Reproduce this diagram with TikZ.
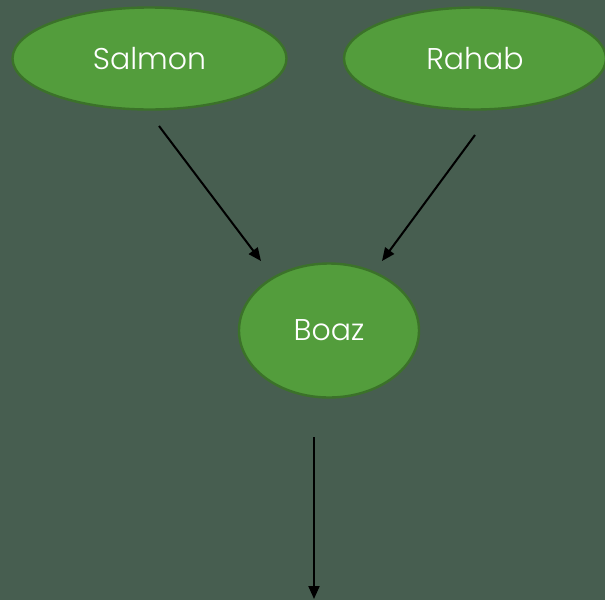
\documentclass[tikz,border=0pt]{standalone}
\usepackage{fontspec}
\setmainfont{Poppins Light}
\usepackage{tikz}
\usetikzlibrary{shapes.geometric,arrows.meta}
\definecolor{bgcol}{HTML}{475E50}
\definecolor{nodefill}{HTML}{539D3C}
\definecolor{nodeline}{HTML}{3B7229}

\begin{document}
\begin{tikzpicture}[x=1pt,y=-1pt,line width=2pt]
    \tikzstyle{person}=[ellipse,draw=nodeline,fill=nodefill,line width=2.4pt,text=white,font=\fontsize{30}{34}\selectfont,inner sep=0pt]
    \tikzstyle{link}=[draw=black,-{Triangle[length=13pt,width=11pt]}]

    % Background and bounding box
    \fill[bgcol] (0,0) rectangle (605,600);
    \useasboundingbox (0,0) rectangle (605,600);

    % Draw the parents
    \node[person,minimum width=274pt,minimum height=102pt] (Salmon) at (149.5,58.5) {Salmon};
    \node[person,minimum width=262pt,minimum height=102pt] (Rahab) at (475,58.5) {Rahab};

    % Draw the child
    \node[person,minimum width=180pt,minimum height=134pt] (Boaz) at (329,330.5) {Boaz};

    % Arrow end points
    \coordinate (S-out) at (159,126);
    \coordinate (S-in) at (261,261);
    \coordinate (R-out) at (475,135);
    \coordinate (R-in) at (382,261);
    \coordinate (B-out) at (314,437);
    \coordinate (B-end) at (314,599);

    % Connect the parents with the child
    \draw[link] (S-out) -- (S-in);
    \draw[link] (R-out) -- (R-in);
    \draw[link] (B-out) -- (B-end);
\end{tikzpicture}
\end{document}
